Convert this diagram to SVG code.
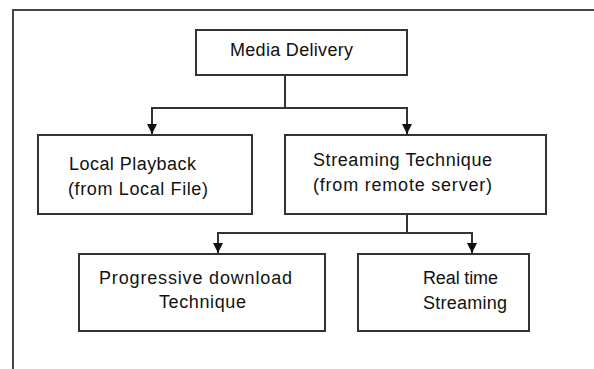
<svg xmlns="http://www.w3.org/2000/svg" width="594" height="369" viewBox="0 0 594 369">
  <style>
    .box { fill: #ffffff; stroke: #333333; stroke-width: 2; }
    .frame { fill: none; stroke: #444444; stroke-width: 2; }
    .link { fill: none; stroke: #333333; stroke-width: 2; }
    .label { font-family: "Liberation Sans", Arial, sans-serif; font-size: 18px; fill: #111111; }
  </style>
  <defs>
    <marker id="arrow" viewBox="0 0 10 10" refX="10" refY="5" markerWidth="11" markerHeight="10" markerUnits="userSpaceOnUse" orient="auto">
      <path d="M0,0 L10,5 L0,10 Z" fill="#111111"/>
    </marker>
  </defs>

  <rect width="594" height="369" fill="#ffffff"/>

  <!-- outer frame -->
  <path class="frame" d="M13,369 V10 H594"/>

  <!-- connectors -->
  <g id="connectors">
    <path class="link" d="M285,75 V108"/>
    <path class="link" d="M285,108 H152 V134" marker-end="url(#arrow)"/>
    <path class="link" d="M285,108 H407 V134" marker-end="url(#arrow)"/>
    <path class="link" d="M407,214 V233"/>
    <path class="link" d="M407,233 H218 V253" marker-end="url(#arrow)"/>
    <path class="link" d="M407,233 H472 V253" marker-end="url(#arrow)"/>
  </g>

  <g id="media-delivery">
    <rect class="box" x="196" y="30" width="211" height="45"/>
    <text class="label" x="230" y="56" textLength="123">Media Delivery</text>
  </g>

  <g id="local-playback">
    <rect class="box" x="38" y="135" width="214" height="79"/>
    <text class="label" x="69" y="170" textLength="127">Local Playback</text>
    <text class="label" x="68" y="195" textLength="140">(from Local File)</text>
  </g>

  <g id="streaming-technique">
    <rect class="box" x="285" y="135" width="261" height="79"/>
    <text class="label" x="313" y="166" textLength="179">Streaming Technique</text>
    <text class="label" x="313" y="191" textLength="179">(from remote server)</text>
  </g>

  <g id="progressive-download">
    <rect class="box" x="79" y="254" width="246" height="77"/>
    <text class="label" x="99" y="284" textLength="193">Progressive download</text>
    <text class="label" x="159" y="308" textLength="87">Technique</text>
  </g>

  <g id="real-time-streaming">
    <rect class="box" x="358" y="254" width="171" height="77"/>
    <text class="label" x="423" y="284" textLength="75">Real time</text>
    <text class="label" x="423" y="309" textLength="84">Streaming</text>
  </g>
</svg>
